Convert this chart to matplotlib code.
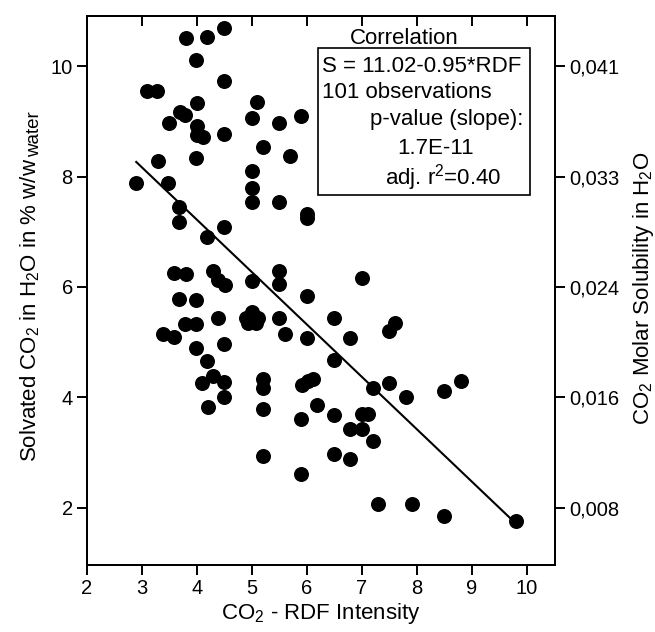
import matplotlib
matplotlib.use("Agg")
import matplotlib.pyplot as plt
from matplotlib.patches import Rectangle
import matplotlib.lines as mlines
import numpy as np

plt.rcParams['font.family'] = ['Liberation Sans', 'DejaVu Sans']
plt.rcParams['mathtext.fontset'] = 'custom'
plt.rcParams['mathtext.rm'] = 'Liberation Sans'
plt.rcParams['mathtext.it'] = 'Liberation Sans:italic'
plt.rcParams['mathtext.bf'] = 'Liberation Sans:bold'

# ---- data ----
rdf_intensity = [
    3.80, 4.19, 4.50, 3.99, 4.50, 3.10, 3.28, 4.00, 3.69, 3.79,
    3.50, 4.00, 4.00, 4.11, 4.50, 5.00, 5.10, 5.50, 5.90, 5.20,
    5.70, 3.99, 3.30, 2.90, 3.48, 5.00, 5.00, 5.00, 5.50, 6.00,
    6.00, 3.68, 3.68, 4.19, 4.50, 3.59, 3.80, 4.30, 4.39, 4.51,
    5.00, 5.50, 5.50, 6.00, 7.00, 3.68, 3.99, 4.39,
    5.00, 4.89, 5.11, 4.93, 5.08, 5.00,
    5.50, 3.79, 3.99, 3.39, 3.59, 5.60, 6.00, 6.49, 6.79, 7.60,
    7.50, 3.99, 4.50, 4.19, 6.49, 4.30, 4.10, 4.50, 5.20, 5.20,
    5.91, 6.02, 6.12,
    7.20, 7.50, 7.80, 8.49, 8.80, 4.50, 4.20, 5.20, 6.19, 5.90,
    6.49, 6.79, 7.00, 7.00, 7.11, 7.20, 6.49, 6.79, 5.20, 5.90,
    7.30, 7.91, 8.49, 9.80,
]
solvated_co2 = [
    10.51, 10.53, 10.69, 10.11, 9.73, 9.55, 9.55, 9.33, 9.17, 9.12,
    8.97, 8.91, 8.75, 8.71, 8.78, 9.06, 9.36, 8.97, 9.09, 8.53,
    8.38, 8.33, 8.28, 7.88, 7.88, 8.10, 7.80, 7.53, 7.53, 7.33,
    7.24, 7.44, 7.17, 6.90, 7.08, 6.26, 6.23, 6.28, 6.12, 6.04,
    6.10, 6.28, 6.06, 5.84, 6.17, 5.79, 5.77, 5.44,
    5.54, 5.43, 5.43, 5.34, 5.34, 5.40,
    5.44, 5.32, 5.32, 5.15, 5.10, 5.15, 5.08, 5.44, 5.08, 5.35,
    5.21, 4.90, 4.97, 4.66, 4.67, 4.39, 4.25, 4.28, 4.34, 4.17,
    4.23, 4.29, 4.34,
    4.16, 4.26, 4.01, 4.12, 4.30, 4.00, 3.83, 3.78, 3.86, 3.61,
    3.68, 3.42, 3.42, 3.69, 3.69, 3.21, 2.97, 2.89, 2.94, 2.61,
    2.07, 2.07, 1.85, 1.76,
]
fit_intercept = 11.02
fit_slope = -0.95
x_ticks = [2, 3, 4, 5, 6, 7, 8, 9, 10]
y_ticks = [2, 4, 6, 8, 10]
molar_labels = ["0,008", "0,016", "0,024", "0,033", "0,041"]
stats_title = "Correlation"
stats_lines = ["S = 11.02-0.95*RDF", "101 observations", "p-value (slope):", "1.7E-11",
               "adj. r$^{2}$=0.40"]
x_label = "CO$_2$ - RDF Intensity"
y_label_main = "Solvated CO$_2$ in H$_2$O in % w/w"
y_label_sub = "water"
y2_label = "CO$_2$ Molar Solubility in H$_2$O"

# ---- figure ----
W, H = 655, 632
fig = plt.figure(figsize=(W / 100, H / 100), dpi=100)
L, R, T, B = 86.7, 555, 16, 565
ax = fig.add_axes([L / W, 1 - B / H, (R - L) / W, (B - T) / H])

ax.plot(rdf_intensity, solvated_co2, 'o', color='black', markersize=10.8,
        markeredgewidth=0, zorder=3)
xf = np.array([min(rdf_intensity), max(rdf_intensity)])
ax.plot(xf, fit_intercept + fit_slope * xf, color='black', lw=1.5, zorder=2)

ax.set_xlim(2, 10.51)
ax.set_ylim(0.96, 10.91)
ax.set_xticks(x_ticks)
ax.set_yticks(y_ticks)
for s in ax.spines.values():
    s.set_linewidth(1.4)
tick_fs = 14.5
ax.tick_params(axis='x', which='major', direction='out', length=7, width=1.4,
               labelsize=tick_fs, pad=3)
ax.tick_params(axis='y', which='major', direction='out', length=7, width=1.4,
               labelsize=tick_fs, pad=3)
ax.xaxis.set_ticks_position('both')
for t in ax.xaxis.get_major_ticks():
    t.tick2line.set_marker(mlines.TICKDOWN)
    t.tick2line.set_markersize(7)
    t.tick2line.set_markeredgewidth(1.4)

ax.set_xlabel(x_label, fontsize=16, labelpad=2)

ax2 = ax.twinx()
ax2.set_ylim(ax.get_ylim())
ax2.set_yticks(y_ticks)
ax2.set_yticklabels(molar_labels)
ax2.tick_params(axis='y', direction='out', length=7, width=1.4, labelsize=tick_fs, pad=3)
for s in ax2.spines.values():
    s.set_linewidth(1.4)

# left y label with near full-size lowered "water"
fig.canvas.draw()
rend = fig.canvas.get_renderer()
lab_fs = 16
tmp1 = fig.text(0, 0, y_label_main, fontsize=lab_fs, rotation=90)
tmp2 = fig.text(0, 0, y_label_sub, fontsize=13.5, rotation=90)
len1 = tmp1.get_window_extent(rend).height
len2 = tmp2.get_window_extent(rend).height
tmp1.remove(); tmp2.remove()
yc = H - (T + B) / 2 + 3
y0 = yc - (len1 + len2) / 2
xb = 36
fig.text(xb / W, y0 / H, y_label_main, fontsize=lab_fs, rotation=90,
         rotation_mode='anchor', ha='left', va='baseline')
fig.text((xb + 3) / W, (y0 + len1 + 1) / H, y_label_sub, fontsize=13.5, rotation=90,
         rotation_mode='anchor', ha='left', va='baseline')

# right label
tmp3 = fig.text(0, 0, y2_label, fontsize=lab_fs, rotation=90)
len3 = tmp3.get_window_extent(rend).height
tmp3.remove()
fig.text(649 / W, (H - (T + B) / 2 - len3 / 2 + 2) / H, y2_label, fontsize=lab_fs,
         rotation=90, rotation_mode='anchor', ha='left', va='baseline')

# correlation box
def axfx(px):
    return (px - L) / (R - L)

def axfy(py):
    return (B - py) / (B - T)

ax.add_patch(Rectangle((axfx(318), axfy(195)), axfx(530) - axfx(318), axfy(48) - axfy(195),
                       transform=ax.transAxes, fill=False, lw=1.2, edgecolor='black',
                       zorder=4, clip_on=False))
fs = 16
ax.text(axfx(404), axfy(38), stats_title, transform=ax.transAxes, ha='center',
        va='center', fontsize=fs)
ax.text(axfx(322), axfy(67), stats_lines[0], transform=ax.transAxes, ha='left', va='center', fontsize=fs)
ax.text(axfx(322), axfy(93), stats_lines[1], transform=ax.transAxes, ha='left', va='center', fontsize=fs)
ax.text(axfx(523), axfy(119), stats_lines[2], transform=ax.transAxes, ha='right', va='center', fontsize=fs)
ax.text(axfx(436), axfy(148), stats_lines[3], transform=ax.transAxes, ha='center', va='center', fontsize=fs)
ax.text(axfx(443), axfy(178), stats_lines[4], transform=ax.transAxes, ha='center', va='center', fontsize=fs)

fig.savefig("out.png", dpi=100)
